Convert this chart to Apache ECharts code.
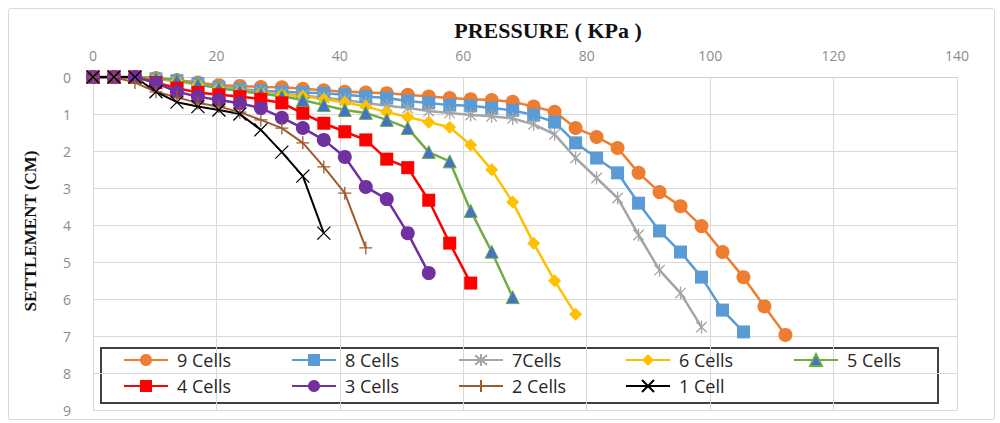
<!DOCTYPE html>
<html>
<head>
<meta charset="utf-8">
<script src="https://cdn.jsdelivr.net/npm/echarts@6/dist/echarts.min.js"></script>
<style>
html,body{margin:0;padding:0;background:#fff;}
#c{width:1000px;height:423px;}
</style>
</head>
<body>
<div id="c"></div>
<script>
// ---- data ----
const pressure = [0, 3.4, 6.8, 10.2, 13.6, 17, 20.4, 23.8, 27.2, 30.6, 34, 37.4, 40.8, 44.2, 47.6, 51, 54.4, 57.8, 61.2, 64.6, 68, 71.4, 74.8, 78.2, 81.6, 85, 88.4, 91.8, 95.2, 98.6, 102, 105.4, 108.8, 112.2];
const seriesNames = ['9 Cells', '8 Cells', '7Cells', '6 Cells', '5 Cells', '4 Cells', '3 Cells', '2 Cells', '1 Cell'];
const cells9 = [0, 0, 0, 0.03, 0.08, 0.15, 0.22, 0.24, 0.27, 0.28, 0.32, 0.36, 0.4, 0.42, 0.44, 0.48, 0.53, 0.57, 0.6, 0.62, 0.67, 0.8, 0.94, 1.38, 1.62, 1.92, 2.59, 3.11, 3.49, 4.03, 4.73, 5.41, 6.2, 6.97];
const cells8 = [0, 0, 0, 0.05, 0.1, 0.18, 0.28, 0.33, 0.37, 0.4, 0.42, 0.44, 0.48, 0.53, 0.57, 0.65, 0.7, 0.76, 0.78, 0.84, 0.9, 1.03, 1.22, 1.78, 2.19, 2.59, 3.41, 4.16, 4.73, 5.41, 6.3, 6.89];
const cells7 = [0, 0, 0, 0.05, 0.12, 0.2, 0.28, 0.34, 0.4, 0.45, 0.5, 0.56, 0.62, 0.7, 0.78, 0.84, 0.92, 0.97, 1.03, 1.06, 1.12, 1.28, 1.55, 2.19, 2.73, 3.27, 4.27, 5.22, 5.84, 6.76];
const cells6 = [0, 0, 0, 0.03, 0.1, 0.2, 0.3, 0.38, 0.44, 0.48, 0.52, 0.6, 0.68, 0.8, 0.95, 1.08, 1.22, 1.36, 1.84, 2.51, 3.38, 4.49, 5.51, 6.41];
const cells5 = [0, 0, 0, 0.03, 0.08, 0.2, 0.3, 0.38, 0.45, 0.52, 0.62, 0.76, 0.89, 0.97, 1.16, 1.38, 2.03, 2.28, 3.62, 4.72, 5.95];
const cells4 = [0, 0, 0, 0.15, 0.3, 0.42, 0.48, 0.53, 0.6, 0.7, 0.98, 1.25, 1.48, 1.7, 2.22, 2.45, 3.33, 4.49, 5.57];
const cells3 = [0, 0, 0, 0.16, 0.4, 0.53, 0.62, 0.71, 0.84, 1.1, 1.38, 1.7, 2.16, 2.97, 3.3, 4.22, 5.3];
const cells2 = [0, 0, 0.15, 0.4, 0.55, 0.7, 0.8, 0.95, 1.16, 1.38, 1.78, 2.43, 3.14, 4.62];
const cells1 = [0, 0, 0, 0.4, 0.68, 0.8, 0.89, 1.0, 1.43, 2.03, 2.68, 4.22];
const xTicks = [0, 20, 40, 60, 80, 100, 120, 140];
const yTicks = [0, 1, 2, 3, 4, 5, 6, 7, 8, 9];
const xTitle = 'PRESSURE ( KPa )';
const yTitle = 'SETTLEMENT (CM)';

// ---- styles ----
const values = [cells9, cells8, cells7, cells6, cells5, cells4, cells3, cells2, cells1];
const crossPath = 'path://M0,0L10,10M10,0L0,10';
const plusPath = 'path://M5,0L5,10M0,5L10,5';
const starPath = 'path://M1,1L9,9M9,1L1,9M5,0L5,10';
const styles = [
  {line:'#ED7D31', fill:'#ED7D31', border:'#ED7D31', bw:0, symbol:'circle', size:14, lw:2.5},
  {line:'#5B9BD5', fill:'#5B9BD5', border:'#5B9BD5', bw:0, symbol:'rect', size:13, lw:2.5},
  {line:'#A5A5A5', fill:'rgba(0,0,0,0)', border:'#A5A5A5', bw:1.3, symbol:starPath, size:13, lw:2.5},
  {line:'#FFC000', fill:'#FFC000', border:'#FFC000', bw:0, symbol:'diamond', size:13, lw:2.5},
  {line:'#70AD47', fill:'#4472C4', border:'#70AD47', bw:1, symbol:'triangle', size:13, lw:2.5},
  {line:'#FF0000', fill:'#FF0000', border:'#FF0000', bw:0, symbol:'rect', size:13, lw:2.5},
  {line:'#7030A0', fill:'#7030A0', border:'#7030A0', bw:0, symbol:'circle', size:14, lw:2.5},
  {line:'#9E5B2B', fill:'rgba(0,0,0,0)', border:'#9E5B2B', bw:1.3, symbol:plusPath, size:13, lw:2},
  {line:'#000000', fill:'rgba(0,0,0,0)', border:'#000000', bw:1.3, symbol:crossPath, size:13, lw:2}
];

const series = seriesNames.map((name, k) => {
  const s = styles[k];
  return {
    name: name,
    type: 'line',
    data: values[k].map((v, i) => [pressure[i], v]),
    symbol: s.symbol,
    symbolSize: s.size,
    symbolKeepAspect: true,
    showAllSymbol: true,
    lineStyle: {color: s.line, width: s.lw},
    itemStyle: {color: s.fill, borderColor: s.border, borderWidth: s.bw},
    emphasis: {disabled: true},
    animation: false
  };
});

const colX = [123, 291, 458, 625, 793];
const rowY = [351, 377];
const legends = seriesNames.map((name, k) => ({
  data: [name],
  left: colX[k % 5],
  top: rowY[Math.floor(k / 5)],
  orient: 'horizontal',
  padding: 0,
  itemGap: 0,
  itemWidth: 44,
  itemHeight: 15,
  selectedMode: false,
  textStyle: {fontFamily: 'Open Sans', fontSize: 18, color: '#262626', padding: [0, 0, 0, 4]}
}));

const chart = echarts.init(document.getElementById('c'), null, {renderer: 'svg'});
chart.setOption({
  backgroundColor: '#ffffff',
  animation: false,
  grid: {left: 93, top: 77, width: 864, height: 333, containLabel: false},
  xAxis: {
    type: 'value', position: 'top', min: xTicks[0], max: xTicks[xTicks.length - 1], interval: 20,
    axisLine: {show: true, lineStyle: {color: '#d0d0d0', width: 1}},
    axisTick: {show: false},
    splitLine: {show: true, lineStyle: {color: '#d9d9d9', width: 1}},
    axisLabel: {color: '#8c8c8c', fontSize: 14, fontFamily: 'Open Sans', margin: 15,
      formatter: v => xTicks.includes(v) ? String(v) : ''}
  },
  yAxis: {
    type: 'value', inverse: true, min: yTicks[0], max: yTicks[yTicks.length - 1], interval: 1,
    axisLine: {show: true, lineStyle: {color: '#d9d9d9', width: 1}},
    axisTick: {show: false},
    splitLine: {show: true, lineStyle: {color: '#d9d9d9', width: 1}},
    axisLabel: {color: '#8c8c8c', fontSize: 14, fontFamily: 'Open Sans', margin: 22,
      formatter: v => yTicks.includes(v) ? String(v) : ''}
  },
  legend: legends,
  graphic: [
    {type: 'rect', z: -10, shape: {x: 8.5, y: 8.5, width: 986, height: 411, r: 2},
     style: {fill: 'none', stroke: '#d9d9d9', lineWidth: 1}},
    {type: 'rect', z: 0, zlevel: 0, shape: {x: 101, y: 348, width: 837, height: 55},
     style: {fill: '#ffffff', stroke: '#404040', lineWidth: 2}},
    {type: 'text', x: 548, y: 30,
     style: {text: xTitle, fill: '#111', font: 'bold 22px "Liberation Serif"', align: 'center', verticalAlign: 'middle'}},
    {type: 'text', x: 30, y: 231, rotation: Math.PI / 2,
     style: {text: yTitle, fill: '#111', font: 'bold 17px "Liberation Serif"', align: 'center', verticalAlign: 'middle'}}
  ],
  series: series
});
</script>
</body>
</html>
